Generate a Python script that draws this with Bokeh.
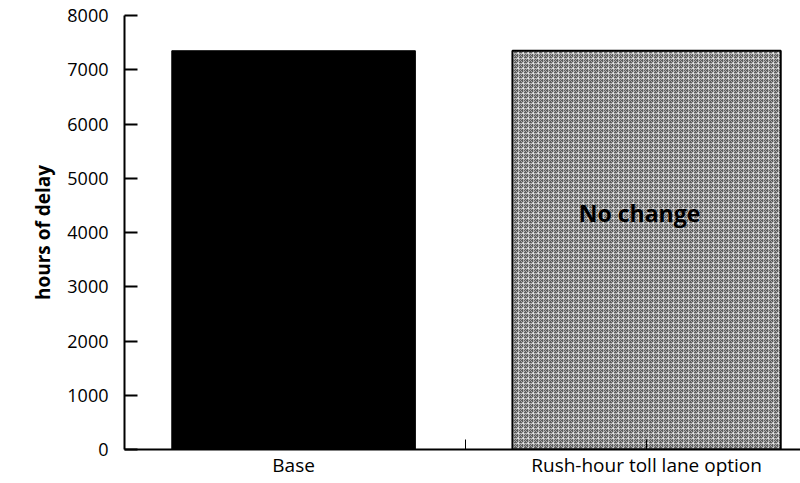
from bokeh.plotting import figure
from bokeh.models import ColumnDataSource, Range1d, FixedTicker, Label
from bokeh.embed import file_html
from bokeh.resources import INLINE

categories = ["Base", "Rush-hour toll lane option"]
hours_of_delay = [7350, 7350]
bar_widths = [0.69, 0.76]
y_ticks = [0, 1000, 2000, 3000, 4000, 5000, 6000, 7000, 8000]
annotation_text = "No change"
annotation_value = 4360

idx = list(range(len(categories)))
mid_tick = 0.487

p = figure(width=800, height=480, output_backend="svg", toolbar_location=None,
           x_range=Range1d(-0.479, 1.436), y_range=Range1d(0, 8000),
           min_border_left=124, min_border_top=15, min_border_right=0,
           min_border_bottom=30)
p.outline_line_color = None
p.xgrid.visible = False
p.ygrid.visible = False
p.background_fill_color = "white"

src_base = ColumnDataSource(dict(x=idx[:1], top=hours_of_delay[:1], w=bar_widths[:1]))
src_opt = ColumnDataSource(dict(x=idx[1:], top=hours_of_delay[1:], w=bar_widths[1:]))

p.vbar(x="x", top="top", width="w", bottom=0, source=src_base,
       fill_color="black", line_color="black")
p.vbar(x="x", top="top", width="w", bottom=0, source=src_opt,
       fill_color="#5e5e5e", line_color="black", line_width=2,
       hatch_pattern="criss_cross", hatch_color="white", hatch_alpha=0.5,
       hatch_scale=5, hatch_weight=1)

p.add_layout(Label(x=idx[1], y=annotation_value, text=annotation_text,
                   x_offset=-7, text_align="center", text_baseline="middle",
                   text_font="Open Sans", text_font_style="bold",
                   text_font_size="23px", text_color="black"))

font = "Open Sans"
# y axis
ya = p.yaxis[0]
ya.ticker = FixedTicker(ticks=y_ticks)
ya.axis_label = "hours of delay"
ya.axis_label_text_font = font
ya.axis_label_text_font_style = "bold"
ya.axis_label_text_font_size = "19px"
ya.axis_label_text_color = "black"
ya.axis_label_standoff = 8
ya.major_label_text_font = font
ya.major_label_text_font_size = "18px"
ya.major_label_text_color = "black"
ya.major_label_standoff = 16
ya.major_tick_in = 13
ya.major_tick_out = 0
ya.minor_tick_in = 0
ya.minor_tick_out = 0
ya.axis_line_width = 2
ya.major_tick_line_width = 2

# x axis
xa = p.xaxis[0]
xa.ticker = FixedTicker(ticks=[idx[0], mid_tick, idx[1]])
labels = {i: c for i, c in zip(idx, categories)}
labels[mid_tick] = ""
xa.major_label_overrides = labels
xa.major_label_text_font = font
xa.major_label_text_font_size = "19px"
xa.major_label_text_color = "black"
xa.major_label_standoff = 2
xa.major_tick_in = 10
xa.major_tick_out = 0
xa.minor_tick_in = 0
xa.minor_tick_out = 0
xa.axis_line_width = 2
xa.major_tick_line_width = 1

open("out.html", "w").write(file_html(p, INLINE))
